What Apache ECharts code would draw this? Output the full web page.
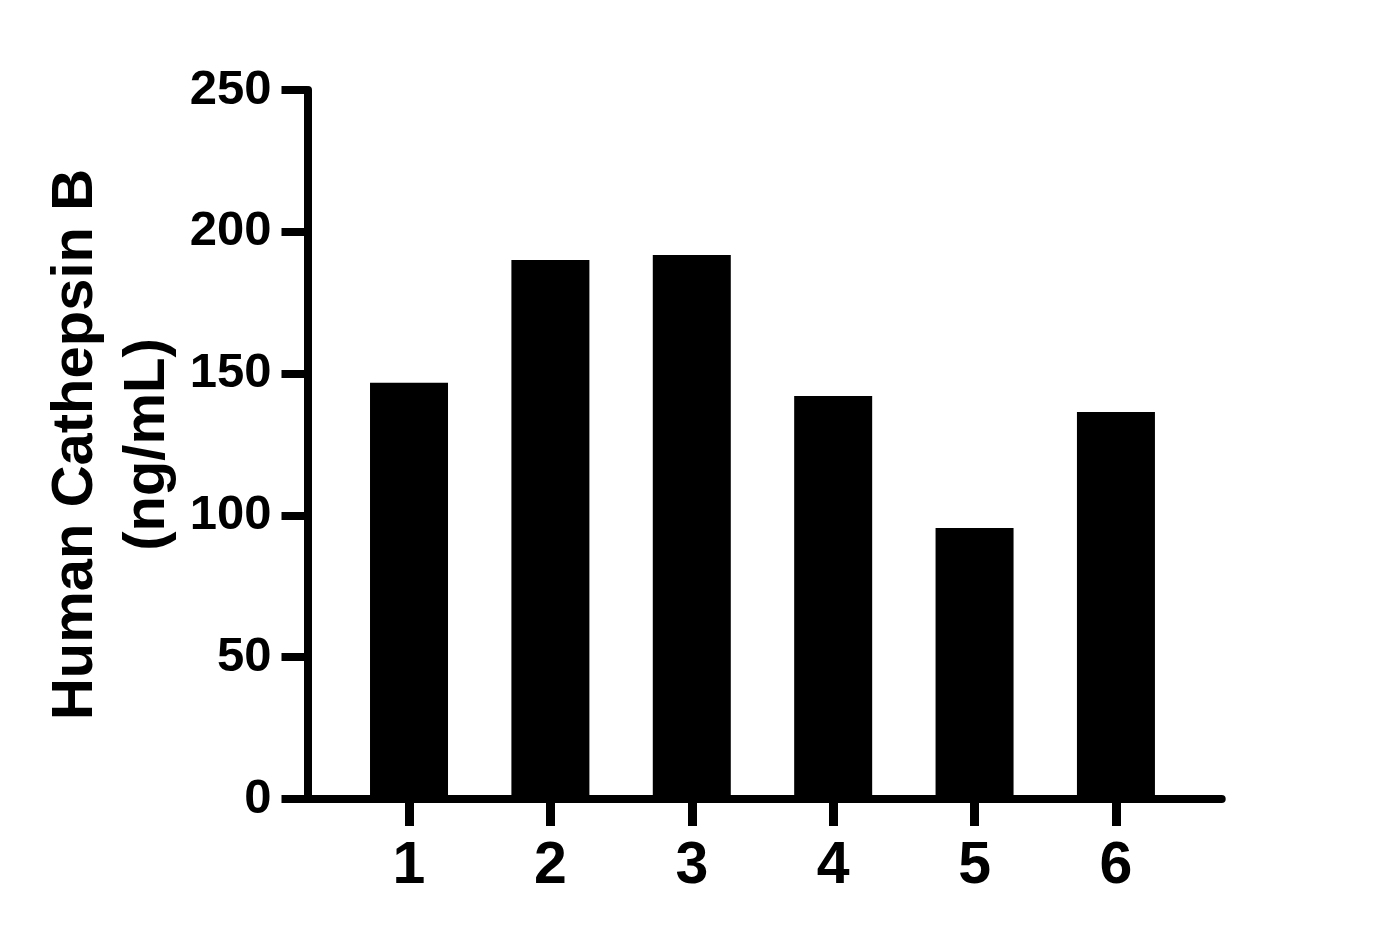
<!DOCTYPE html>
<html>
<head>
<meta charset="utf-8">
<script src="https://cdn.jsdelivr.net/npm/echarts@6/dist/echarts.min.js"></script>
<style>
  html, body { margin: 0; padding: 0; background: #fff; }
  #chart { width: 1399px; height: 939px; }
</style>
</head>
<body>
<div id="chart"></div>
<script>
const groups = [1, 2, 3, 4, 5, 6];
const cathepsin = [146.8, 190.1, 191.8, 142.1, 95.6, 136.5];
const yTicks = [0, 50, 100, 150, 200, 250];
const yTitle = 'Human Cathepsin B\n(ng/mL)';

const font = '"Liberation Sans", Arial, sans-serif';

const chart = echarts.init(document.getElementById('chart'));
chart.setOption({
    animation: false,
    backgroundColor: '#fff',
    grid: { left: 307.5, right: 1399 - 1221.7, top: 90, bottom: 939 - 799 },
    xAxis: {
        type: 'value',
        min: 0.282,
        max: 6.748,
        splitLine: { show: false },
        axisLine: { lineStyle: { color: '#000', width: 8 } },
        axisTick: { customValues: groups, length: 27, lineStyle: { color: '#000', width: 9 } },
        axisLabel: {
            customValues: groups, margin: 38, color: '#000',
            fontSize: 59, fontWeight: 'bold', fontFamily: font
        }
    },
    yAxis: {
        type: 'value',
        min: yTicks[0],
        max: yTicks[yTicks.length - 1],
        interval: 50,
        splitLine: { show: false },
        axisLine: { lineStyle: { color: '#000', width: 8 } },
        axisTick: { length: 26, lineStyle: { color: '#000', width: 8 } },
        axisLabel: { margin: 36, color: '#000', fontSize: 49, fontWeight: 'bold', fontFamily: font },
        name: yTitle,
        nameLocation: 'middle',
        nameRotate: 90,
        nameGap: 124,
        nameMoveOverlap: false,
        nameTextStyle: { color: '#000', fontSize: 58, fontWeight: 'bold', fontFamily: font, lineHeight: 72 }
    },
    series: [{
        type: 'bar',
        barWidth: 78,
        itemStyle: { color: '#000' },
        data: groups.map((g, i) => [g, cathepsin[i]])
    }]
});
</script>
</body>
</html>
